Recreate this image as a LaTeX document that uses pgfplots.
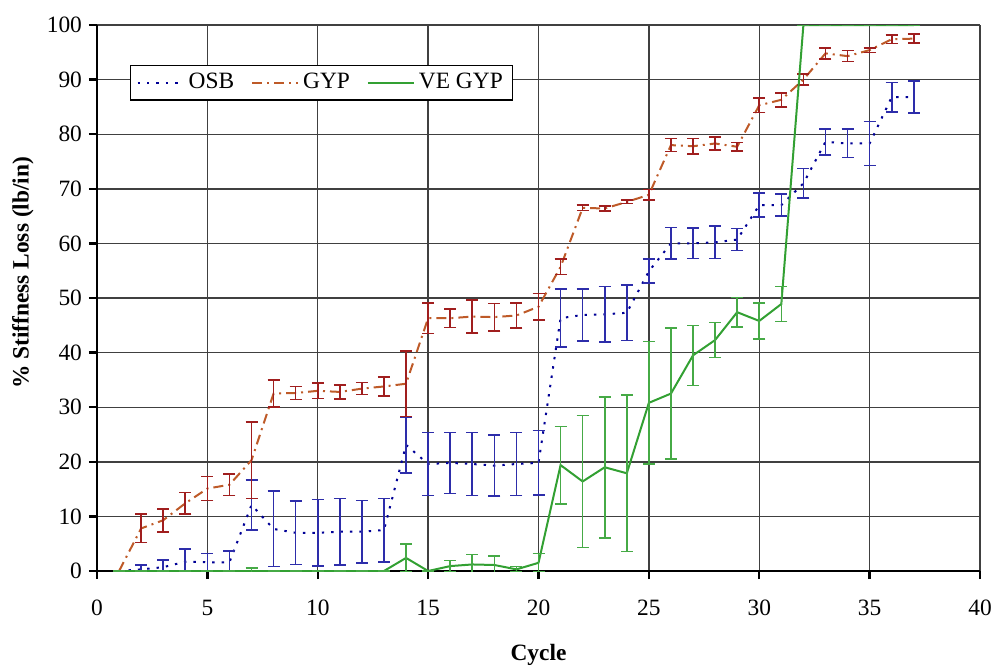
\documentclass[border=0pt]{standalone}
\usepackage{pgfplots}
\usepackage{pgfplotstable}
\pgfplotsset{compat=1.18}
\usepackage{fontspec}
\setmainfont{Liberation Serif}

\definecolor{osb}{RGB}{0,0,150}
\definecolor{osberr}{RGB}{45,45,170}
\definecolor{gyp}{RGB}{190,90,40}
\definecolor{gyperr}{RGB}{160,30,30}
\definecolor{ve}{RGB}{50,160,50}
\definecolor{veerr}{RGB}{70,170,70}

% cycle, mean stiffness loss, error
\pgfplotstableread{
x y e
1 0 0
2 0.3 0.8
3 0.7 1.3
4 1.7 2.3
5 1.6 1.6
6 1.6 2.1
7 12.1 4.6
8 7.7 6.9
9 7.0 5.8
10 7.0 6.1
11 7.2 6.1
12 7.2 5.7
13 7.5 5.8
14 23.1 5.1
15 19.6 5.8
16 19.8 5.6
17 19.6 5.8
18 19.3 5.6
19 19.6 5.8
20 19.8 5.9
21 46.3 5.3
22 46.9 4.8
23 47.0 5.1
24 47.3 5.1
25 54.9 2.2
26 60.0 2.9
27 60.0 2.8
28 60.2 3.0
29 60.7 2.0
30 67.0 2.2
31 67.0 2.0
32 71.0 2.7
33 78.6 2.4
34 78.3 2.6
35 78.3 4.0
36 86.8 2.7
37 86.8 2.9
}\osbdata

\pgfplotstableread{
x y e
1 0 0
2 7.8 2.6
3 9.3 2.1
4 12.4 2.0
5 15.1 2.2
6 15.8 2.0
7 20.3 7.0
8 32.5 2.5
9 32.6 1.2
10 33.0 1.4
11 32.8 1.3
12 33.4 1.1
13 33.8 1.7
14 34.3 6.0
15 46.3 2.8
16 46.3 1.7
17 46.6 3.0
18 46.5 2.5
19 46.8 2.3
20 48.4 2.4
21 55.7 1.4
22 66.5 0.5
23 66.4 0.5
24 67.6 0.3
25 68.9 1.0
26 78.0 1.2
27 77.8 1.4
28 78.3 1.2
29 77.7 0.8
30 85.3 1.3
31 86.3 1.3
32 90.0 1.0
33 94.8 1.0
34 94.3 1.0
35 95.4 0.4
36 97.4 0.8
37 97.5 0.8
}\gypdata

\pgfplotstableread{
x y e
1 0 0
2 0 0
3 0 0
4 0 0
5 0 0
6 0 0
7 0 0.5
8 0 0
9 0 0
10 0 0
11 0 0
12 0 0
13 0 0
14 2.4 2.5
15 0 0
16 0.9 1.0
17 1.2 1.8
18 1.1 1.7
19 0.3 0.5
20 1.5 1.7
21 19.4 7.1
22 16.4 12.1
23 19.0 12.9
24 17.9 14.3
25 30.8 11.2
26 32.5 12.0
27 39.5 5.5
28 42.3 3.2
29 47.4 2.7
30 45.8 3.3
31 48.9 3.2
32 100 0
33 100 0
34 100 0
35 100 0
36 100 0
37 100 0
}\vedata

\begin{document}
\begin{tikzpicture}
\path[use as bounding box] (-48.5pt,-47.5pt) rectangle (451.5pt,285.5pt);
\begin{axis}[
    width=441.5pt, height=273pt, scale only axis,
    xmin=0, xmax=40, ymin=0, ymax=100,
    xtick={0,5,...,40}, ytick={0,10,...,100},
    axis x line*=bottom, axis y line*=left,
    axis line style={-, line width=1.4pt, black},
    tick align=outside, major tick length=4pt,
    tick style={black, line width=1.2pt},
    grid=major,
    major grid style={black!75, line width=0.7pt},
    font=\fontsize{11.7}{14}\selectfont,
    tick label style={font=\fontsize{11.7}{14}\selectfont},
    xticklabel style={yshift=-7pt},
    /pgf/number format/assume math mode=true,
    xlabel={\textbf{Cycle}},
    ylabel={\textbf{\% Stiffness Loss (lb/in)}},
    xlabel style={at={(axis description cs:0.5,-0.154)}, anchor=center},
    ylabel style={at={(axis description cs:-0.084,0.546)}, anchor=center},
    legend columns=3,
    legend cell align=left,
    legend image code/.code={\draw[#1] (0pt,0pt) -- (23pt,0pt);},
    legend style={at={(axis description cs:0.0374,0.927)}, anchor=north west,
        draw=black, line width=0.6pt, fill=white, inner xsep=3pt, inner ysep=2pt,
        font=\fontsize{11.7}{14}\selectfont,
        /tikz/every even column/.append style={column sep=6.5pt}},
]

\addplot[osb, line width=1pt, dash pattern=on 1.2pt off 3.5pt,
    error bars/.cd, y dir=both, y explicit,
    error bar style={osberr, line width=0.8pt, solid},
    error mark options={osberr, rotate=90, mark size=3pt, line width=0.8pt, solid}]
    table[x=x, y=y, y error=e] {\osbdata};
\addlegendentry{OSB}

\addplot[gyp, line width=1pt, dash pattern=on 5pt off 2.5pt on 1pt off 2.5pt,
    error bars/.cd, y dir=both, y explicit,
    error bar style={gyperr, line width=0.8pt, solid},
    error mark options={gyperr, rotate=90, mark size=3pt, line width=0.8pt, solid}]
    table[x=x, y=y, y error=e] {\gypdata};
\addlegendentry{GYP}

\addplot[ve, line width=1pt, solid,
    error bars/.cd, y dir=both, y explicit,
    error bar style={veerr, line width=0.8pt, solid},
    error mark options={veerr, rotate=90, mark size=3pt, line width=0.8pt, solid}]
    table[x=x, y=y, y error=e] {\vedata};
\addlegendentry{VE GYP}

\end{axis}
\end{tikzpicture}
\end{document}
